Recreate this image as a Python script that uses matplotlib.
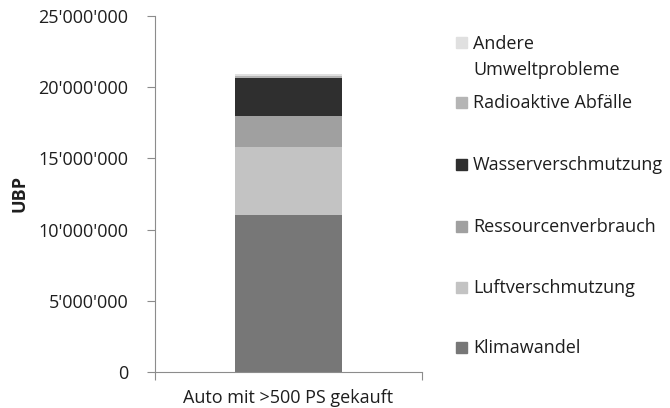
import matplotlib.pyplot as plt
from matplotlib.patches import Rectangle
from matplotlib.ticker import FuncFormatter

plt.rcParams['font.family'] = ['Open Sans', 'DejaVu Sans']

category = "Auto mit >500 PS gekauft"
labels = ["Klimawandel", "Luftverschmutzung", "Ressourcenverbrauch",
          "Wasserverschmutzung", "Radioaktive Abfälle", "Andere\nUmweltprobleme"]
values = [11_030_000, 4_780_000, 2_180_000, 2_670_000, 110_000, 140_000]
colors = ["#777777", "#c3c3c3", "#a0a0a0", "#2f2f2f", "#b5b5b5", "#e0e0e0"]
yticks = [0, 5_000_000, 10_000_000, 15_000_000, 20_000_000, 25_000_000]

W, H = 670, 408
FS = 13
fig = plt.figure(figsize=(W / 100, H / 100), dpi=100)
ax = fig.add_axes([155 / W, (H - 372) / H, 267 / W, 356 / H])

bottom = 0
for v, c in zip(values, colors):
    ax.bar(0, v, width=0.4, bottom=bottom, color=c, edgecolor='none')
    bottom += v

ax.set_xlim(-0.5, 0.5)
ax.set_ylim(0, 25_000_000)
ax.set_yticks(yticks)
ax.yaxis.set_major_formatter(FuncFormatter(lambda v, p: f"{int(v):,}".replace(",", "'")))
ax.set_xticks([-0.5, 0.5])
ax.set_xticklabels([])
fig.text(288 / W, (H - 398) / H, category, ha='center', va='center',
         fontsize=FS, color='#1e1e1e')

for s in ['top', 'right']:
    ax.spines[s].set_visible(False)
for s in ['left', 'bottom']:
    ax.spines[s].set_color('#8c8c8c')
ax.tick_params(axis='both', colors='#8c8c8c', length=6, labelcolor='#1e1e1e', labelsize=FS)
ax.tick_params(axis='y', pad=13)
ax.set_ylabel("UBP", fontsize=FS, fontweight='bold', color='#1e1e1e')
ax.yaxis.set_label_coords(-127 / 267, 0.5)

# legend, drawn by hand to follow the original spacing
leg_y = [348, 288, 227, 165, 103, 43]
for lab, c, y in zip(labels, colors, leg_y):
    fig.patches.append(Rectangle((456 / W, (H - y - 5) / H), 11 / W, 11 / H,
                                 transform=fig.transFigure, color=c, figure=fig))
    if '\n' in lab:
        fig.text(473 / W, (H - y + 8) / H, lab, ha='left', va='top',
                 fontsize=FS, color='#1e1e1e', linespacing=1.55)
    else:
        fig.text(473 / W, (H - y) / H, lab, ha='left', va='center',
                 fontsize=FS, color='#1e1e1e')

fig.savefig("out.png", dpi=100)
